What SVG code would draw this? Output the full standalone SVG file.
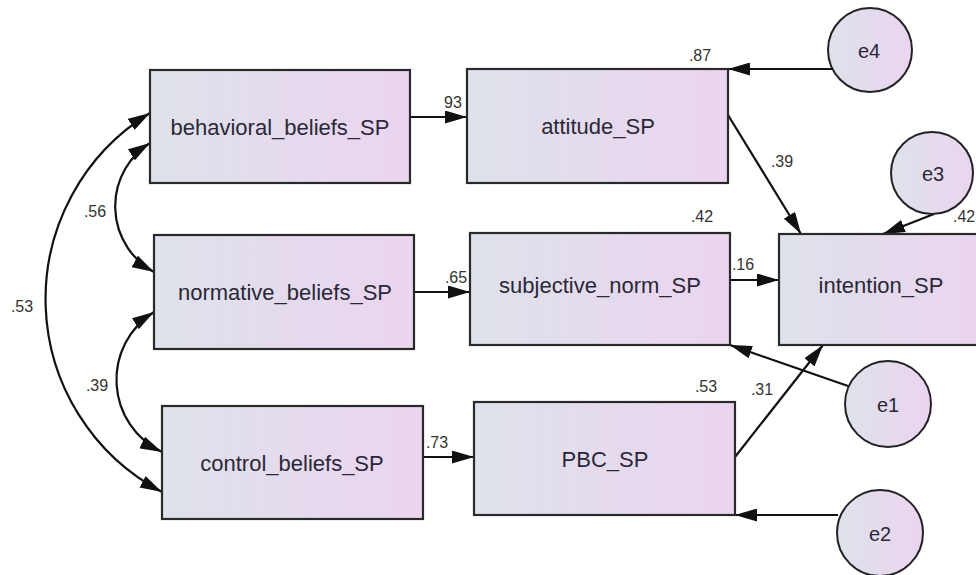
<svg xmlns="http://www.w3.org/2000/svg" width="976" height="575" viewBox="0 0 976 575">
<defs>
<linearGradient id="g" x1="0" y1="0" x2="1" y2="0">
<stop offset="0" stop-color="#dee2ea"/>
<stop offset="1" stop-color="#ebd4f0"/>
</linearGradient>
<marker id="ah" markerUnits="userSpaceOnUse" markerWidth="22" markerHeight="13" refX="22" refY="6.5" orient="auto-start-reverse" viewBox="0 0 22 13">
<path d="M0,0 L22,6.5 L0,13 z" fill="#111"/>
</marker>
<style>
.box{fill:url(#g);stroke:#2a2a2a;stroke-width:2.2}
.err{fill:url(#g);stroke:#222;stroke-width:2}
.lbl{font-family:"Liberation Sans",Arial,sans-serif;font-size:22px;fill:#2a2838;text-anchor:middle}
.elbl{font-family:"Liberation Sans",Arial,sans-serif;font-size:20px;fill:#2a2838;text-anchor:middle}
.num{font-family:"Liberation Sans",Arial,sans-serif;font-size:16px;fill:#333;text-anchor:middle}
.c{fill:none;stroke:#111;stroke-width:2.2;marker-end:url(#ah)}
.d{fill:none;stroke:#111;stroke-width:2.2;marker-end:url(#ah);marker-start:url(#ah)}
</style>
</defs>
<rect width="976" height="575" fill="#fff"/>

<g id="connectors">
<path class="d" d="M150,113 A218,218 0 0 0 162,492"/>
<path class="d" d="M150,143 A75,75 0 0 0 154,272"/>
<path class="d" d="M154,312 A80,80 0 0 0 162,452"/>
<path class="c" d="M410,117 L467,117"/>
<path class="c" d="M414,292 L470,292"/>
<path class="c" d="M423,457 L474,457"/>
<path class="c" d="M832,69 L728,69"/>
<path class="c" d="M728,115 L801,234"/>
<path class="c" d="M934,214 L883,234"/>
<path class="c" d="M730,280 L779,280"/>
<path class="c" d="M848,386 L730,345"/>
<path class="c" d="M735,457 L823,345"/>
<path class="c" d="M838,515 L735,515"/>
<text class="num" x="453" y="108">93</text>
<text class="num" x="456" y="283">.65</text>
<text class="num" x="437" y="448">.73</text>
<text class="num" x="700" y="61">.87</text>
<text class="num" x="782" y="167">.39</text>
<text class="num" x="702" y="222">.42</text>
<text class="num" x="743" y="270">.16</text>
<text class="num" x="953" y="222" style="text-anchor:start">.42</text>
<text class="num" x="706" y="392">.53</text>
<text class="num" x="762" y="395">.31</text>
<text class="num" x="95" y="217">.56</text>
<text class="num" x="22" y="312">.53</text>
<text class="num" x="97" y="391">.39</text>
</g>

<g id="behavioral_beliefs_SP">
<rect class="box" x="150" y="70" width="260" height="113"/>
<text class="lbl" x="280" y="135">behavioral_beliefs_SP</text>
</g>
<g id="normative_beliefs_SP">
<rect class="box" x="154" y="235" width="260" height="114"/>
<text class="lbl" x="285" y="300">normative_beliefs_SP</text>
</g>
<g id="control_beliefs_SP">
<rect class="box" x="162" y="406" width="261" height="113"/>
<text class="lbl" x="292" y="471">control_beliefs_SP</text>
</g>
<g id="attitude_SP">
<rect class="box" x="467" y="69" width="261" height="114"/>
<text class="lbl" x="598" y="134">attitude_SP</text>
</g>
<g id="subjective_norm_SP">
<rect class="box" x="470" y="233" width="260" height="112"/>
<text class="lbl" x="600" y="293">subjective_norm_SP</text>
</g>
<g id="PBC_SP">
<rect class="box" x="474" y="402" width="261" height="113"/>
<text class="lbl" x="605" y="467">PBC_SP</text>
</g>
<g id="intention_SP">
<rect class="box" x="779" y="234" width="206" height="111"/>
<text class="lbl" x="881" y="293">intention_SP</text>
</g>
<g id="e4">
<circle class="err" cx="870" cy="50" r="42"/>
<text class="elbl" x="869" y="58">e4</text>
</g>
<g id="e3">
<circle class="err" cx="932" cy="173" r="41"/>
<text class="elbl" x="933" y="181">e3</text>
</g>
<g id="e1">
<circle class="err" cx="888" cy="404" r="43"/>
<text class="elbl" x="888" y="412">e1</text>
</g>
<g id="e2">
<circle class="err" cx="880" cy="533" r="43"/>
<text class="elbl" x="880" y="541">e2</text>
</g>
</svg>
